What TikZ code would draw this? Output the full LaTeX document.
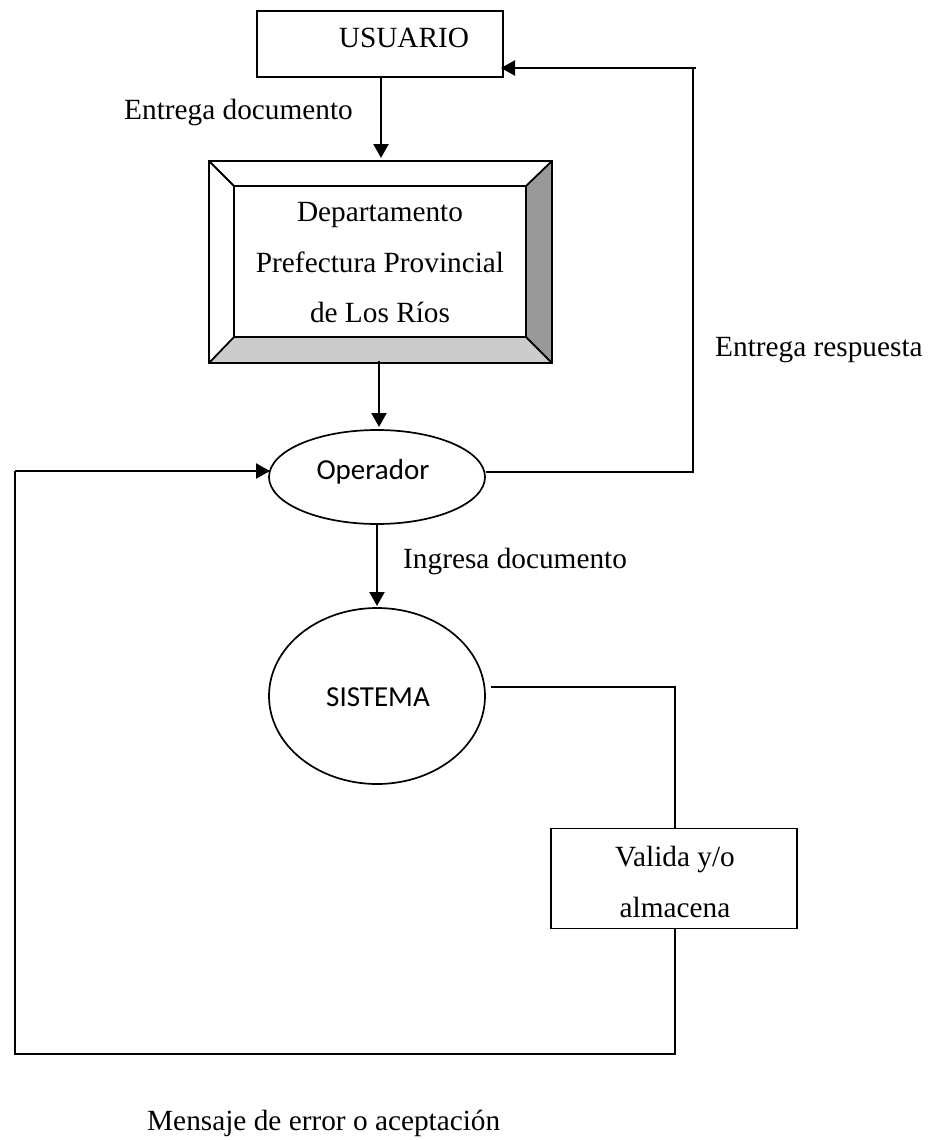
\documentclass[tikz,border=0pt]{standalone}
\usepackage{fontspec}
\setmainfont{Liberation Serif}
\newfontfamily\calibri{Carlito}
\usetikzlibrary{arrows.meta,shapes.geometric}
\tikzset{
  box/.style={draw,line width=1.8pt,fill=white,inner sep=0pt,minimum width=#1},
  oval/.style={ellipse,draw,line width=1.7pt,inner sep=0pt},
  lbl/.style={font=\fontsize{29.3}{29.3}\selectfont,inner sep=0pt,anchor=base west},
  inbox/.style={font=\fontsize{29.3}{29.3}\selectfont,inner sep=0pt,anchor=base},
  ovaltext/.style={font=\calibri\fontsize{29}{29}\selectfont,inner sep=0pt},
  flow/.style={line width=2.2pt,-{Triangle[length=14pt,width=15pt]}},
  thin line/.style={line width=1.8pt},
  bev/.style={draw,line width=1.8pt,line join=miter}
}
\begin{document}
\begin{tikzpicture}[x=1pt,y=-1pt]
\useasboundingbox (0,0) rectangle (933,1140);
% USUARIO
\node[box=246pt,minimum height=66pt] (usu) at (380,44) {};
\node[inbox] (usut) at (404,48) {USUARIO};
% bevel
\coordinate (oTL) at (209,161); \coordinate (oTR) at (552,161);
\coordinate (oBR) at (552,363); \coordinate (oBL) at (209,363);
\coordinate (iTL) at (234,186); \coordinate (iTR) at (526,186);
\coordinate (iBR) at (526,337); \coordinate (iBL) at (234,337);
\fill[white] (oTL) rectangle (oBR);
\fill[black!40] (oTR) -- (oBR) -- (iBR) -- (iTR) -- cycle;
\fill[black!20] (oBL) -- (oBR) -- (iBR) -- (iBL) -- cycle;
\draw[bev] (oTL) rectangle (oBR);
\draw[bev] (iTL) rectangle (iBR);
\draw[bev] (oTL) -- (iTL) (oTR) -- (iTR) (oBR) -- (iBR) (oBL) -- (iBL);
\node[inbox] (d1) at (380,221) {Departamento};
\node[inbox] (d2) at (380,272) {Prefectura Provincial};
\node[inbox] (d3) at (380,322) {de Los Ríos};
\coordinate (depT) at (381,158);
\coordinate (depB) at (379,361);
% ovals
\node[oval,minimum width=216pt,minimum height=94pt] (op) at (377,477) {};
\node[ovaltext] (opt) at (373,472) {Operador};
\node[oval,minimum width=216pt,minimum height=176pt] (sis) at (377,696) {};
\node[ovaltext] (sist) at (378,697) {SISTEMA};
% Valida
\node[box=246pt,minimum height=100pt] (val) at (674,878.5) {};
\node[inbox] (v1) at (675,866) {Valida y/o};
\node[inbox] (v2) at (675,917) {almacena};
% labels
\node[lbl] (l1) at (124,119) {Entrega documento};
\node[lbl] (l2) at (715,356) {Entrega respuesta};
\node[lbl] (l3) at (403,568) {Ingresa documento};
\node[lbl] (l4) at (147,1130) {Mensaje de error o aceptación};
% connectors
\draw[flow] (381,77) -- (depT);
\draw[flow] (depB) -- (379,427);
\draw[flow] (op.south) -- (377,606);
\coordinate (rt) at (693,472);
\coordinate (rb) at (693,68);
\coordinate (rs) at (696,68);
\coordinate (rtip) at (501,68);
\draw[thin line] (op.east |- rt) -- (rt) -- (rb);
\draw[flow] (rs) -- (rtip);
\coordinate (a) at (491,687);
\coordinate (b) at (675,687);
\draw[thin line] (a) -- (b) -- (b |- val.north);
\coordinate (c) at (675,1054);
\coordinate (d) at (15,1054);
\coordinate (e) at (15,471);
\draw[thin line] (b |- val.south) -- (c) -- (d) -- (e);
\draw[flow] (e) -- (270,471);
\end{tikzpicture}
\end{document}
